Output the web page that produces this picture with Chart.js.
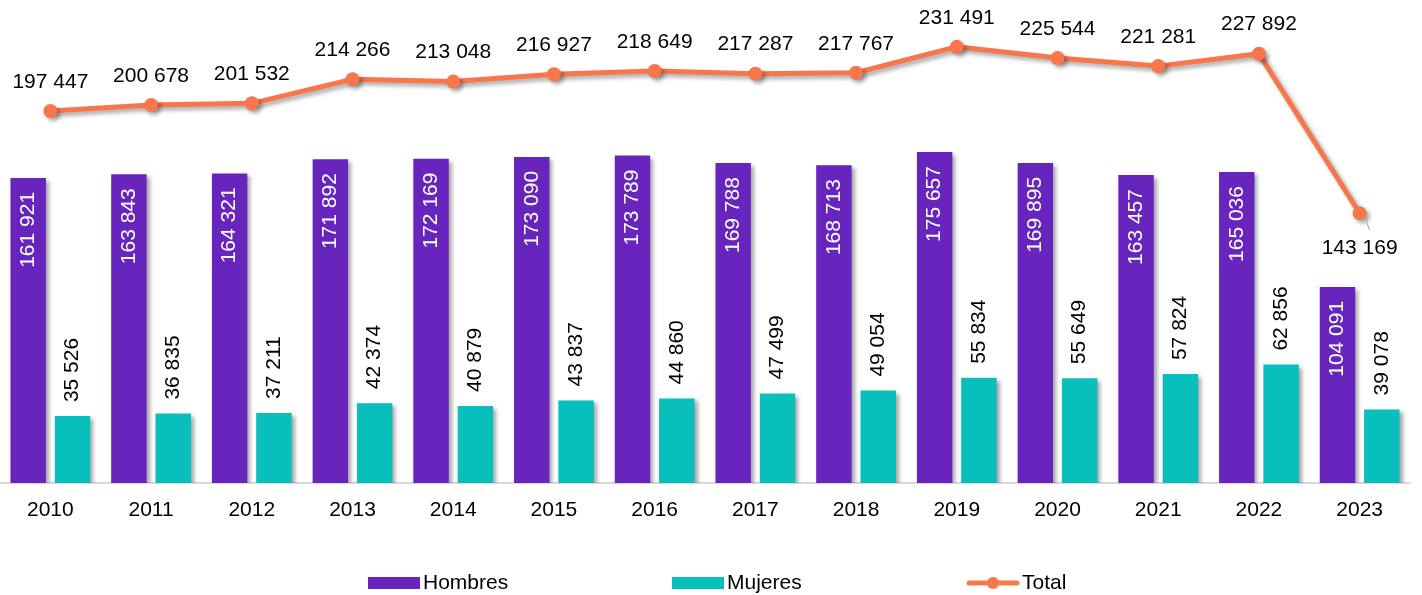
<!DOCTYPE html>
<html>
<head>
<meta charset="utf-8">
<script src="https://cdn.jsdelivr.net/npm/chart.js@4.4.1/dist/chart.umd.min.js"></script>
<style>
  html, body { margin: 0; padding: 0; background: #fff; }
  #wrap { width: 1422px; height: 595px; }
</style>
</head>
<body>
<div id="wrap"><canvas id="myChart" width="1422" height="595"></canvas></div>
<script>
var years = ['2010', '2011', '2012', '2013', '2014', '2015', '2016', '2017', '2018', '2019', '2020', '2021', '2022', '2023'];
var hombres = [161921, 163843, 164321, 171892, 172169, 173090, 173789, 169788, 168713, 175657, 169895, 163457, 165036, 104091];
var mujeres = [35526, 36835, 37211, 42374, 40879, 43837, 44860, 47499, 49054, 55834, 55649, 57824, 62856, 39078];
var total = [197447, 200678, 201532, 214266, 213048, 216927, 218649, 217287, 217767, 231491, 225544, 221281, 227892, 143169];

var PURPLE = '#6725be';
var TEAL = '#08bfbb';
var ORANGE = '#f7764a';
var FONT = '"Liberation Sans", Arial, sans-serif';

function fmt(v) {
    return String(v).replace(/\B(?=(\d{3})+(?!\d))/g, ' ');
}

// sombra suave en barras y linea
var shadowPlugin = {
    id: 'shadow',
    beforeDatasetDraw: function(chart) {
        var ctx = chart.ctx;
        ctx.save();
        ctx.shadowColor = 'rgba(0, 0, 0, 0.35)';
        ctx.shadowBlur = 4;
        ctx.shadowOffsetX = 3;
        ctx.shadowOffsetY = 3;
    },
    afterDatasetDraw: function(chart) {
        chart.ctx.restore();
    }
};

// etiquetas de valores
var labelPlugin = {
    id: 'valueLabels',
    afterDatasetsDraw: function(chart) {
        var ctx = chart.ctx;
        ctx.save();
        ctx.font = '21px ' + FONT;
        chart.data.datasets.forEach(function(ds, di) {
            var meta = chart.getDatasetMeta(di);
            meta.data.forEach(function(el, i) {
                var txt = fmt(ds.data[i]);
                if (ds.label === 'Hombres') {
                    ctx.save();
                    ctx.translate(el.x, el.y + 14);
                    ctx.rotate(-Math.PI / 2);
                    ctx.textAlign = 'right';
                    ctx.textBaseline = 'middle';
                    ctx.fillStyle = '#ffffff';
                    ctx.fillText(txt, 0, 0);
                    ctx.restore();
                } else if (ds.label === 'Mujeres') {
                    ctx.save();
                    ctx.translate(el.x, el.y - 14);
                    ctx.rotate(-Math.PI / 2);
                    ctx.textAlign = 'left';
                    ctx.textBaseline = 'middle';
                    ctx.fillStyle = '#000000';
                    ctx.fillText(txt, 0, 0);
                    ctx.restore();
                } else {
                    ctx.textAlign = 'center';
                    ctx.textBaseline = 'middle';
                    ctx.fillStyle = '#000000';
                    var below = i === ds.data.length - 1;
                    if (below) {
                        // linea guia gris hacia la etiqueta
                        ctx.strokeStyle = '#a6a6a6';
                        ctx.lineWidth = 1;
                        ctx.beginPath();
                        ctx.moveTo(el.x + 5, el.y + 3);
                        ctx.lineTo(el.x + 10, el.y + 17);
                        ctx.stroke();
                    }
                    ctx.fillText(txt, el.x, below ? el.y + 35 : el.y - 29);
                }
            });
        });
        ctx.restore();
    }
};

// leyenda inferior
var legendPlugin = {
    id: 'bottomLegend',
    afterDraw: function(chart) {
        var ctx = chart.ctx;
        var y = 583;
        var items = [
            { text: 'Hombres', color: PURPLE, type: 'box', x: 368 },
            { text: 'Mujeres', color: TEAL, type: 'box', x: 672 },
            { text: 'Total', color: ORANGE, type: 'line', x: 967 }
        ];
        ctx.save();
        ctx.font = '21px ' + FONT;
        ctx.textBaseline = 'middle';
        ctx.textAlign = 'left';
        items.forEach(function(it) {
            if (it.type === 'box') {
                ctx.fillStyle = it.color;
                ctx.fillRect(it.x, y - 6, 52, 12);
            } else {
                ctx.strokeStyle = it.color;
                ctx.lineWidth = 5;
                ctx.lineCap = 'round';
                ctx.beginPath();
                ctx.moveTo(it.x + 2, y);
                ctx.lineTo(it.x + 50, y);
                ctx.stroke();
                ctx.fillStyle = it.color;
                ctx.beginPath();
                ctx.arc(it.x + 26, y, 6, 0, Math.PI * 2);
                ctx.fill();
            }
            ctx.fillStyle = '#000000';
            ctx.fillText(it.text, it.x + 55, y);
        });
        ctx.restore();
    }
};

var ctx = document.getElementById('myChart').getContext('2d');
var myChart = new Chart(ctx, {
    type: 'bar',
    data: {
        labels: years,
        datasets: [
            {
                type: 'line',
                label: 'Total',
                data: total,
                borderColor: ORANGE,
                backgroundColor: ORANGE,
                borderWidth: 5,
                pointRadius: 7,
                pointHoverRadius: 7,
                pointBackgroundColor: ORANGE,
                pointBorderWidth: 0,
                tension: 0,
                order: 0
            },
            {
                label: 'Hombres',
                data: hombres,
                backgroundColor: PURPLE,
                categoryPercentage: 0.88,
                barPercentage: 0.8,
                order: 1
            },
            {
                label: 'Mujeres',
                data: mujeres,
                backgroundColor: TEAL,
                categoryPercentage: 0.88,
                barPercentage: 0.8,
                order: 2
            }
        ]
    },
    options: {
        responsive: false,
        animation: false,
        maintainAspectRatio: false,
        layout: {
            autoPadding: false,
            padding: { top: 12, right: 12, left: -1, bottom: 0 }
        },
        plugins: {
            legend: { display: false },
            tooltip: { enabled: false }
        },
        scales: {
            x: {
                offset: true,
                grid: { display: false, drawTicks: false },
                border: { display: true, color: '#d9d9d9', width: 2 },
                ticks: {
                    color: '#000000',
                    font: { family: FONT, size: 21 },
                    padding: 15
                },
                afterFit: function(scale) { scale.height = 112; }
            },
            y: {
                display: false,
                min: 0,
                max: 250000
            }
        }
    },
    plugins: [shadowPlugin, labelPlugin, legendPlugin]
});
</script>
</body>
</html>
